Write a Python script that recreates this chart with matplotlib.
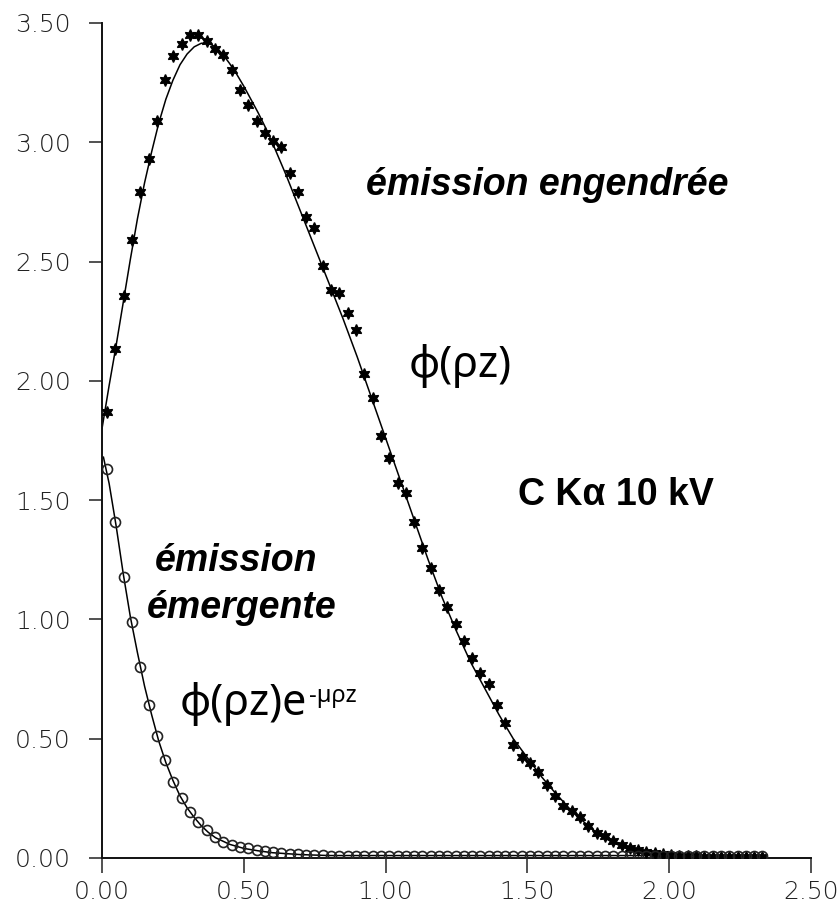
import numpy as np
import matplotlib
matplotlib.use("Agg")
import matplotlib.pyplot as plt
from matplotlib.ticker import FormatStrFormatter

# depth rho*z (mg/cm2) of the measured points
depth = [0.018, 0.047, 0.077, 0.106, 0.135, 0.164, 0.194, 0.223, 0.252, 0.281,
         0.311, 0.340, 0.369, 0.398, 0.428, 0.457, 0.486, 0.515, 0.545, 0.574,
         0.603, 0.632, 0.662, 0.691, 0.720, 0.749, 0.779, 0.808, 0.837, 0.866,
         0.896, 0.925, 0.954, 0.983, 1.013, 1.042, 1.071, 1.100, 1.130, 1.159,
         1.188, 1.217, 1.247, 1.276, 1.305, 1.334, 1.364, 1.393, 1.422, 1.451,
         1.481, 1.510, 1.539, 1.568, 1.598, 1.627, 1.656, 1.685, 1.715, 1.744,
         1.773, 1.802, 1.832, 1.861, 1.890, 1.919, 1.949, 1.978, 2.007, 2.036,
         2.066, 2.095, 2.124, 2.153, 2.183, 2.212, 2.241, 2.270, 2.300, 2.329]

# generated emission phi(rho z), stars
phi_pts = [1.87, 2.135, 2.355, 2.59, 2.79, 2.93, 3.09, 3.26, 3.36, 3.41,
           3.45, 3.45, 3.425, 3.39, 3.365, 3.305, 3.22, 3.155, 3.09, 3.04,
           3.005, 2.98, 2.87, 2.79, 2.685, 2.64, 2.48, 2.38, 2.37, 2.285,
           2.215, 2.03, 1.93, 1.77, 1.675, 1.57, 1.53, 1.41, 1.30, 1.215,
           1.125, 1.05, 0.98, 0.91, 0.84, 0.775, 0.73, 0.64, 0.567, 0.473,
           0.425, 0.40, 0.36, 0.305, 0.26, 0.218, 0.195, 0.173, 0.134, 0.106,
           0.092, 0.072, 0.055, 0.043, 0.034, 0.026, 0.02, 0.015, 0.012, 0.01,
           0.008, 0.007, 0.006, 0.005, 0.005, 0.004, 0.004, 0.003, 0.003, 0.003]

# emerging emission phi(rho z) exp(-mu rho z), circles
emer_pts = [1.63, 1.41, 1.176, 0.99, 0.80, 0.64, 0.51, 0.41, 0.32, 0.25,
            0.194, 0.152, 0.117, 0.086, 0.068, 0.054, 0.045, 0.04, 0.035, 0.03,
            0.025, 0.02, 0.017, 0.015, 0.013, 0.012, 0.011, 0.01, 0.01, 0.01,
            0.01, 0.01, 0.01, 0.01, 0.01, 0.01, 0.01, 0.01, 0.01, 0.01,
            0.01, 0.01, 0.01, 0.01, 0.01, 0.01, 0.01, 0.01, 0.01, 0.01,
            0.01, 0.01, 0.01, 0.01, 0.01, 0.01, 0.01, 0.01, 0.01, 0.01,
            0.01, 0.01, 0.01, 0.01, 0.01, 0.01, 0.01, 0.01, 0.01, 0.01,
            0.01, 0.01, 0.01, 0.01, 0.01, 0.01, 0.01, 0.01, 0.01, 0.01]

# calculated curves
phi_line_x = [0.0, 0.025, 0.05, 0.075, 0.10, 0.125, 0.15, 0.175, 0.20, 0.225,
              0.25, 0.275, 0.30, 0.325, 0.35, 0.375, 0.40, 0.425, 0.45, 0.475,
              0.50, 0.525, 0.55, 0.575, 0.60, 0.65, 0.70, 0.75, 0.80, 0.85,
              0.90, 0.95, 1.00, 1.05, 1.10, 1.15, 1.20, 1.25, 1.30, 1.35,
              1.40, 1.45, 1.50, 1.55, 1.60, 1.65, 1.70, 1.75, 1.80, 1.85,
              1.90, 1.95, 2.00, 2.10, 2.33]
phi_line_y = [1.80, 1.98, 2.15, 2.33, 2.51, 2.68, 2.83, 2.96, 3.08, 3.18,
              3.26, 3.325, 3.37, 3.40, 3.415, 3.415, 3.40, 3.37, 3.33, 3.285,
              3.235, 3.18, 3.125, 3.065, 3.00, 2.86, 2.71, 2.56, 2.41, 2.26,
              2.10, 1.93, 1.76, 1.59, 1.42, 1.25, 1.09, 0.95, 0.82, 0.71,
              0.60, 0.50, 0.42, 0.34, 0.27, 0.205, 0.15, 0.10, 0.065, 0.04,
              0.022, 0.01, 0.004, 0.0, 0.0]

emer_line_x = [0.005, 0.025, 0.05, 0.075, 0.10, 0.125, 0.15, 0.175, 0.20, 0.225,
               0.25, 0.275, 0.30, 0.325, 0.35, 0.375, 0.40, 0.45, 0.50, 0.55,
               0.60, 0.70, 0.80, 2.33]
emer_line_y = [1.68, 1.57, 1.39, 1.19, 1.01, 0.86, 0.72, 0.60, 0.49, 0.40,
               0.325, 0.26, 0.21, 0.17, 0.135, 0.107, 0.085, 0.057, 0.04, 0.03,
               0.022, 0.014, 0.01, 0.01]

x_ticks = [0.0, 0.5, 1.0, 1.5, 2.0, 2.5]
y_ticks = [0.0, 0.5, 1.0, 1.5, 2.0, 2.5, 3.0, 3.5]

fig = plt.figure(figsize=(8.39, 9.05), dpi=100)
ax = fig.add_axes([0.1216, 0.052, 0.845, 0.9226])

ax.plot(phi_line_x, phi_line_y, color="black", lw=1.1, zorder=2)
ax.plot(emer_line_x, emer_line_y, color="black", lw=1.1, zorder=2)
ax.plot(depth, phi_pts, ls="none", marker=(6, 1, 0), ms=8.5, color="black",
        zorder=3)
ax.plot(depth, emer_pts, ls="none", marker="o", ms=7.2, mfc="none",
        mec="#222222", mew=1.2, zorder=4)

ax.set_xlim(0, 2.5)
ax.set_ylim(0, 3.5)
ax.set_xticks(x_ticks)
ax.set_yticks(y_ticks)
ax.xaxis.set_major_formatter(FormatStrFormatter("%.2f"))
ax.yaxis.set_major_formatter(FormatStrFormatter("%.2f"))
for s in ["top", "right"]:
    ax.spines[s].set_visible(False)
for s in ["left", "bottom"]:
    ax.spines[s].set_linewidth(1.4)
    ax.spines[s].set_color("#111111")
ax.tick_params(axis="x", direction="out", length=11, width=1.1, pad=5,
               labelsize=18, colors="#222222")
ax.tick_params(axis="y", direction="out", length=9.5, width=1.1, pad=13,
               labelsize=18, colors="#222222")
for lab in ax.get_xticklabels() + ax.get_yticklabels():
    lab.set_fontfamily("DejaVu Sans")
    lab.set_fontweight("light")

bold_it = dict(family=["Liberation Sans", "DejaVu Sans"], weight="bold",
               style="italic", fontsize=27, va="baseline", ha="center")
ax.text(1.57, 2.779, "émission engendrée", **bold_it)
ax.text(0.474, 1.203, "émission", **bold_it)
ax.text(0.494, 1.006, "émergente", **bold_it)

ax.text(1.813, 1.479, "C Kα 10 kV", family=["Liberation Sans", "DejaVu Sans"],
        weight="bold", fontsize=27, ha="center", va="baseline")

sym = dict(family=["Noto Sans", "DejaVu Sans"], fontsize=31, va="baseline")
ax.text(1.264, 2.017, "ϕ(ρz)", ha="center", **sym)
t = ax.text(0.275, 0.599, "ϕ(ρz)e", ha="left", **sym)

fig.canvas.draw()
bb = t.get_window_extent()
x_end = ax.transData.inverted().transform((bb.x1, bb.y0))[0]
ax.text(x_end + 0.004, 0.652, "-µρz", family=["Noto Sans", "DejaVu Sans"],
        fontsize=17, ha="left", va="baseline")

fig.savefig("out.png", dpi=100)
